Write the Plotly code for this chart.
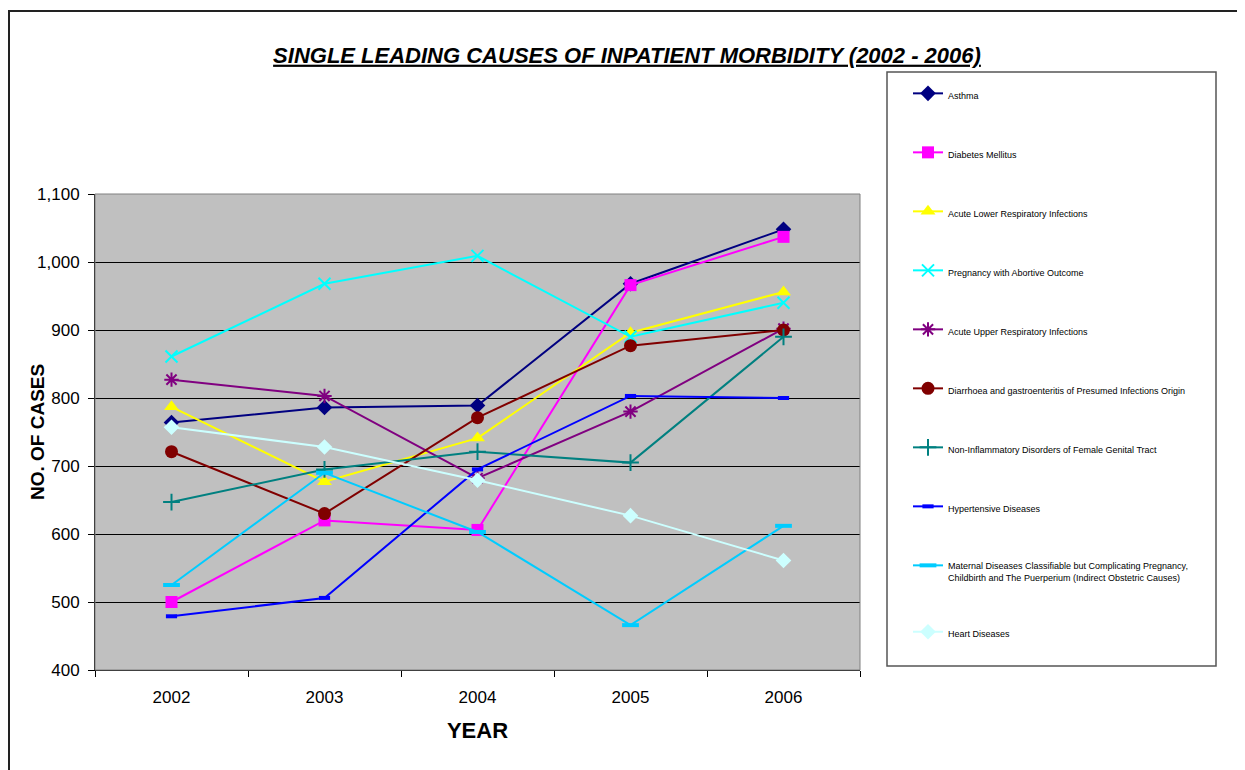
import plotly.graph_objects as go

years = ["2002", "2003", "2004", "2005", "2006"]

asthma = [764, 786, 789, 968, 1048]
diabetes = [500, 620, 606, 966, 1037]
alri = [787, 677, 741, 896, 956]
pregnancy = [861, 968, 1009, 890, 940]
auri = [827, 803, 682, 780, 902]
diarrhoea = [721, 630, 771, 877, 900]
noninflam = [647, 695, 721, 705, 890]
hypertensive = [479, 506, 695, 803, 800]
maternal = [525, 690, 603, 466, 612]
heart = [757, 728, 679, 627, 561]

names = [
    "Asthma",
    "Diabetes Mellitus",
    "Acute Lower Respiratory Infections",
    "Pregnancy with Abortive Outcome",
    "Acute Upper Respiratory Infections",
    "Diarrhoea and gastroenteritis of Presumed Infections Origin",
    "Non-Inflammatory Disorders of Female Genital Tract",
    "Hypertensive Diseases",
    "Maternal Diseases Classifiable but Complicating Pregnancy,<br>Childbirth and The Puerperium (Indirect Obstetric Causes)",
    "Heart Diseases",
]
series = [asthma, diabetes, alri, pregnancy, auri, diarrhoea, noninflam,
          hypertensive, maternal, heart]
colors = ["#000080", "#FF00FF", "#FFFF00", "#00FFFF", "#800080", "#800000",
          "#008080", "#0000FF", "#00CCFF", "#CCFFFF"]
markers = [
    dict(symbol="diamond", size=12),
    dict(symbol="square", size=12),
    dict(symbol="triangle-up", size=13),
    dict(symbol="x-thin-open", size=12, line=dict(width=2)),
    dict(symbol="asterisk-open", size=12, line=dict(width=2)),
    dict(symbol="circle", size=13),
    dict(symbol="cross-thin-open", size=12, line=dict(width=2)),
    dict(symbol="line-ew-open", size=8, line=dict(width=4)),
    dict(symbol="line-ew-open", size=12, line=dict(width=4)),
    dict(symbol="diamond", size=12),
]

fig = go.Figure()
for i, (nm, ys, c, mk) in enumerate(zip(names, series, colors, markers)):
    m = dict(mk)
    m["color"] = c
    if "line" in m:
        m["line"] = dict(m["line"], color=c)
    fig.add_trace(go.Scatter(
        x=years, y=ys, name=nm, mode="lines+markers",
        line=dict(color=c, width=2), marker=m, legendgroup=str(i),
    ))

W, H = 1245, 770
OFF = 8  # page body margin
L, R, T, B = 95 - OFF, 860 - OFF, 194 - OFF, 670 - OFF


def px(x):
    return (x - OFF - L) / (R - L)


def py(y):
    return (B - (y - OFF)) / (B - T)


fig.update_layout(
    width=W, height=H,
    margin=dict(l=L, r=W - R, t=T, b=H - B),
    paper_bgcolor="white",
    plot_bgcolor="#C0C0C0",
    font=dict(family="Liberation Sans, Arial, sans-serif", color="black"),
    title=dict(
        text="SINGLE LEADING CAUSES OF INPATIENT MORBIDITY (2002 - 2006)",
        x=(627 - OFF) / W, xanchor="center", y=1 - (55 - OFF) / H, yanchor="middle",
        font=dict(size=22, weight="bold", style="italic", lineposition="under"),
    ),
    xaxis=dict(
        type="category", range=[-0.5, 4.5], tickson="boundaries",
        ticks="outside", ticklen=6, tickcolor="black",
        showline=True, linecolor="black", linewidth=1,
        showgrid=False, tickfont=dict(size=17), ticklabelstandoff=12,
        title=dict(text="<b>YEAR</b>", font=dict(size=22), standoff=16),
    ),
    yaxis=dict(
        range=[400, 1100], dtick=100, tickformat=",",
        ticks="outside", ticklen=6, tickcolor="black",
        showline=True, linecolor="black", linewidth=1,
        showgrid=True, gridcolor="black", gridwidth=1,
        tickfont=dict(size=17), ticklabelstandoff=5,
        zeroline=False,
    ),
    annotations=[
        dict(text="<b>NO. OF CASES</b>", xref="paper", yref="paper",
             x=px(37), y=py(432), xanchor="center", yanchor="middle",
             textangle=-90, showarrow=False, font=dict(size=19)),
    ],
    legend=dict(
        xref="container", yref="container",
        x=(908 - OFF) / W, y=1 - (81 - OFF) / H, xanchor="left", yanchor="top",
        bgcolor="rgba(0,0,0,0)", borderwidth=0,
        font=dict(size=9, color="black"),
        tracegroupgap=40, valign="top", traceorder="grouped",
        maxheight=720,
    ),
    showlegend=True,
    shapes=[
        # outer chart frame
        dict(type="rect", xref="paper", yref="paper",
             x0=px(9), x1=px(1242), y0=py(790), y1=py(11),
             line=dict(color="#222222", width=2), layer="below"),
        # plot area border
        dict(type="rect", xref="paper", yref="paper",
             x0=0, x1=1, y0=0, y1=1,
             line=dict(color="#808080", width=1)),
        # legend box
        dict(type="rect", xref="paper", yref="paper",
             x0=px(887), x1=px(1216), y0=py(666), y1=py(72),
             line=dict(color="#555555", width=1.5)),
    ],
)

fig.write_html("out.html")
